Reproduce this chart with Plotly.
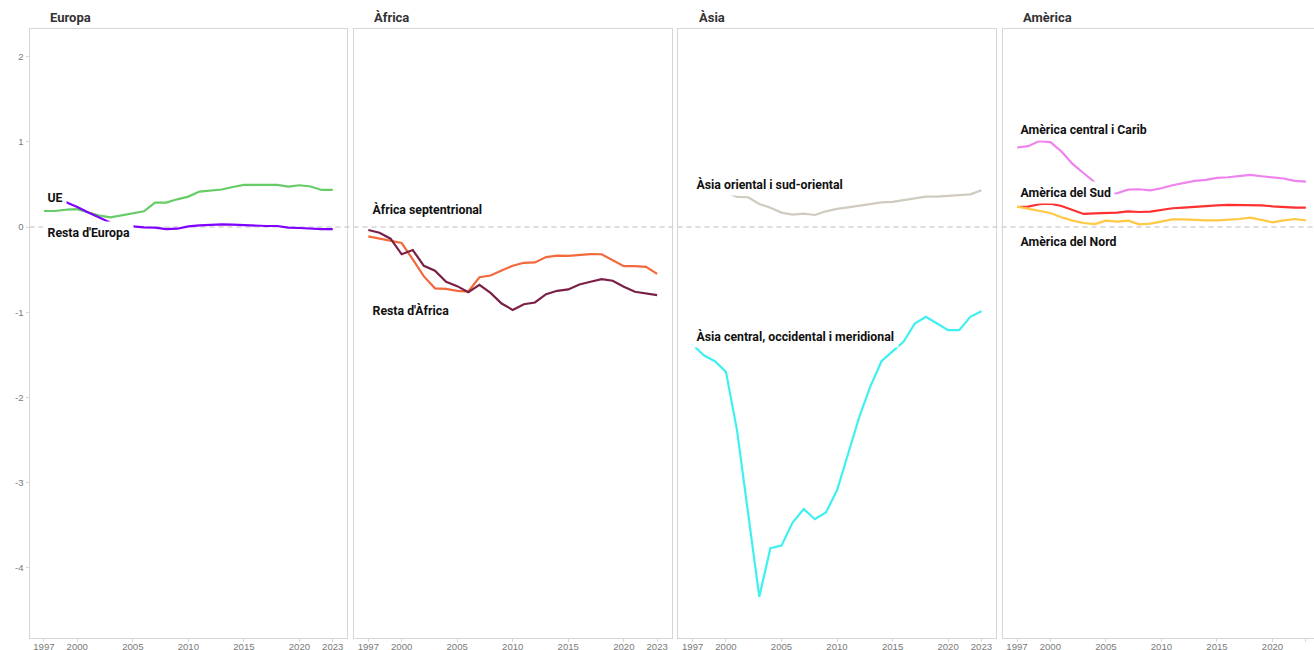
import plotly.graph_objects as go

# ---------------- data ----------------
years = list(range(1997, 2024))

tick_years = [1997, 2000, 2005, 2010, 2015, 2020, 2023]
y_ticks = [-4, -3, -2, -1, 0, 1, 2]

panel_titles = ["Europa", "Àfrica", "Àsia", "Amèrica"]

ue = [0.40, 0.34, 0.29, 0.235, 0.17, 0.11, 0.05, 0.02, 0.005, -0.004, -0.008, -0.024, -0.02,
      0.008, 0.02, 0.027, 0.031, 0.027, 0.02, 0.016, 0.012, 0.012, -0.008, -0.012, -0.02, -0.024, -0.024]
resta_europa = [0.188, 0.188, 0.204, 0.21, 0.17, 0.133, 0.114, 0.137, 0.157, 0.184, 0.286, 0.286, 0.325,
                0.357, 0.416, 0.427, 0.44, 0.47, 0.494, 0.494, 0.49, 0.494, 0.475, 0.49, 0.475, 0.435, 0.435]

africa_sept = [-0.11, -0.137, -0.165, -0.188, -0.38, -0.58, -0.72, -0.726, -0.75, -0.757, -0.59, -0.57, -0.51,
               -0.455, -0.42, -0.416, -0.353, -0.337, -0.34, -0.325, -0.318, -0.32, -0.388, -0.46, -0.46, -0.467, -0.55]
resta_africa = [-0.035, -0.067, -0.137, -0.32, -0.27, -0.455, -0.514, -0.643, -0.694, -0.765, -0.678, -0.773, -0.898,
                -0.973, -0.906, -0.886, -0.788, -0.749, -0.733, -0.675, -0.643, -0.612, -0.631, -0.702, -0.76, -0.78, -0.8]

asia_central = [-1.38, -1.506, -1.576, -1.70, -2.39, -3.35, -4.34, -3.77, -3.74, -3.47, -3.31, -3.43, -3.35,
                -3.09, -2.66, -2.23, -1.87, -1.576, -1.459, -1.345, -1.133, -1.055, -1.133, -1.21, -1.21, -1.055, -0.99]
asia_oriental = [0.47, 0.46, 0.44, 0.408, 0.353, 0.349, 0.27, 0.227, 0.169, 0.145, 0.157, 0.141, 0.184,
                 0.212, 0.231, 0.251, 0.27, 0.29, 0.294, 0.314, 0.333, 0.357, 0.357, 0.365, 0.369, 0.384, 0.431]

america_central = [0.933, 0.949, 1.008, 0.996, 0.886, 0.741, 0.631, 0.525, 0.385, 0.396, 0.439, 0.443, 0.431,
                   0.455, 0.49, 0.518, 0.541, 0.553, 0.576, 0.584, 0.596, 0.612, 0.596, 0.584, 0.569, 0.541, 0.533]
america_sud = [0.235, 0.239, 0.267, 0.275, 0.247, 0.2, 0.153, 0.161, 0.161, 0.169, 0.184, 0.176, 0.18,
               0.2, 0.22, 0.227, 0.239, 0.247, 0.255, 0.259, 0.259, 0.263, 0.255, 0.243, 0.231, 0.227, 0.227]
america_nord = [0.239, 0.212, 0.188, 0.165, 0.114, 0.075, 0.047, 0.035, 0.075, 0.063, 0.075, 0.031, 0.039,
                0.063, 0.09, 0.09, 0.082, 0.078, 0.078, 0.082, 0.094, 0.11, 0.082, 0.055, 0.078, 0.094, 0.078]

series = [
    # (panel index, name, values, colour)
    (0, "Resta d'Europa", resta_europa, "#66CC66"),
    (0, "UE", ue, "#8000FF"),
    (1, "Àfrica septentrional", africa_sept, "#F26A3B"),
    (1, "Resta d'Àfrica", resta_africa, "#7A1F47"),
    (2, "Àsia oriental i sud-oriental", asia_oriental, "#CFCBBF"),
    (2, "Àsia central, occidental i meridional", asia_central, "#3EF0F0"),
    (3, "Amèrica central i Carib", america_central, "#EE82EE"),
    (3, "Amèrica del Sud", america_sud, "#FF3030"),
    (3, "Amèrica del Nord", america_nord, "#FFC845"),
]

# label: (panel, text, y value of label centre)
labels = [
    (0, "UE", 0.35),
    (0, "Resta d'Europa", -0.065),
    (1, "Àfrica septentrional", 0.21),
    (1, "Resta d'Àfrica", -0.975),
    (2, "Àsia oriental i sud-oriental", 0.51),
    (2, "Àsia central, occidental i meridional", -1.28),
    (3, "Amèrica central i Carib", 1.14),
    (3, "Amèrica del Sud", 0.40),
    (3, "Amèrica del Nord", -0.175),
]

# ---------------- layout geometry ----------------
W, H = 1314, 650
MT, MB = 29, 12
px_per_year = 11.108
x0 = 1995.7
panel_w = 28.6 * px_per_year
lefts = [29.5, 353.9, 678.2, 1002.6]
y_range = [-4.824, 2.324]
label_x = 1996.93

FONT = "Roboto, Liberation Sans, sans-serif"
TICKFONT = dict(family="Liberation Sans, Arial, sans-serif", size=9.6, color="#7a7a7a")
FRAME = "#d6d6d6"

fig = go.Figure()

def ax_name(i, kind):
    return kind if i == 0 else f"{kind}{i + 1}"

for (p, name, vals, col) in series:
    fig.add_trace(go.Scatter(
        x=years, y=vals, mode="lines", name=name,
        line=dict(color=col, width=2.2),
        xaxis=ax_name(p, "x"), yaxis=ax_name(p, "y"),
        showlegend=False,
    ))

layout = dict(
    width=W, height=H,
    margin=dict(l=0, r=0, t=MT, b=MB, pad=0),
    paper_bgcolor="white", plot_bgcolor="white",
    template="none",
    showlegend=False,
)

for i, left in enumerate(lefts):
    right = min(left + panel_w, W)
    xr = [x0, x0 + (right - left) / px_per_year]
    xa = dict(
        domain=[left / W, right / W], range=xr,
        tickmode="array", tickvals=tick_years, ticktext=[str(t) for t in tick_years],
        ticks="outside", ticklen=3, tickcolor=FRAME, tickwidth=1, ticklabelstandoff=-4,
        showline=True, linecolor=FRAME, linewidth=1, mirror=True,
        showgrid=False, zeroline=False, tickfont=TICKFONT,
        anchor=ax_name(i, "y"), automargin=False, fixedrange=True,
    )
    ya = dict(
        domain=[0, 1], range=y_range,
        tickmode="array", tickvals=y_ticks, ticktext=[str(t) for t in y_ticks],
        ticks="outside" if i == 0 else "", ticklen=3, tickcolor=FRAME,
        showticklabels=(i == 0),
        showline=True, linecolor=FRAME, linewidth=1, mirror=(i < 3),
        showgrid=False, zeroline=False, tickfont=TICKFONT,
        anchor=ax_name(i, "x"), automargin=False, fixedrange=True,
    )
    layout["xaxis" if i == 0 else f"xaxis{i + 1}"] = xa
    layout["yaxis" if i == 0 else f"yaxis{i + 1}"] = ya

fig.update_layout(**layout)

# zero reference line across all panels
fig.add_shape(type="line", xref="paper", yref="y", x0=lefts[0] / W, x1=1, y0=0, y1=0,
              line=dict(color="#bdbdbd", width=1.2, dash="5px,4px"), layer="below")

# panel titles
for i, t in enumerate(panel_titles):
    fig.add_annotation(text=t, xref="paper", yref="paper",
                       x=(lefts[i] + 18.5) / W, y=1 + (MT - 17) / (H - MT - MB),
                       xanchor="left", yanchor="middle", showarrow=False,
                       font=dict(family=FONT, size=13, color="#333333", weight="bold"))

# series labels (white background, like ggplot labels)
for (p, text, ly) in labels:
    fig.add_annotation(text=text, xref=ax_name(p, "x"), yref=ax_name(p, "y"),
                       x=label_x, y=ly, xanchor="left", yanchor="middle", showarrow=False,
                       bgcolor="white", borderpad=3.5,
                       font=dict(family=FONT, size=12.3, color="#111111", weight="bold"))

fig.write_html("out.html", config={"displayModeBar": False},
               post_script="document.body.style.margin='0px';")
